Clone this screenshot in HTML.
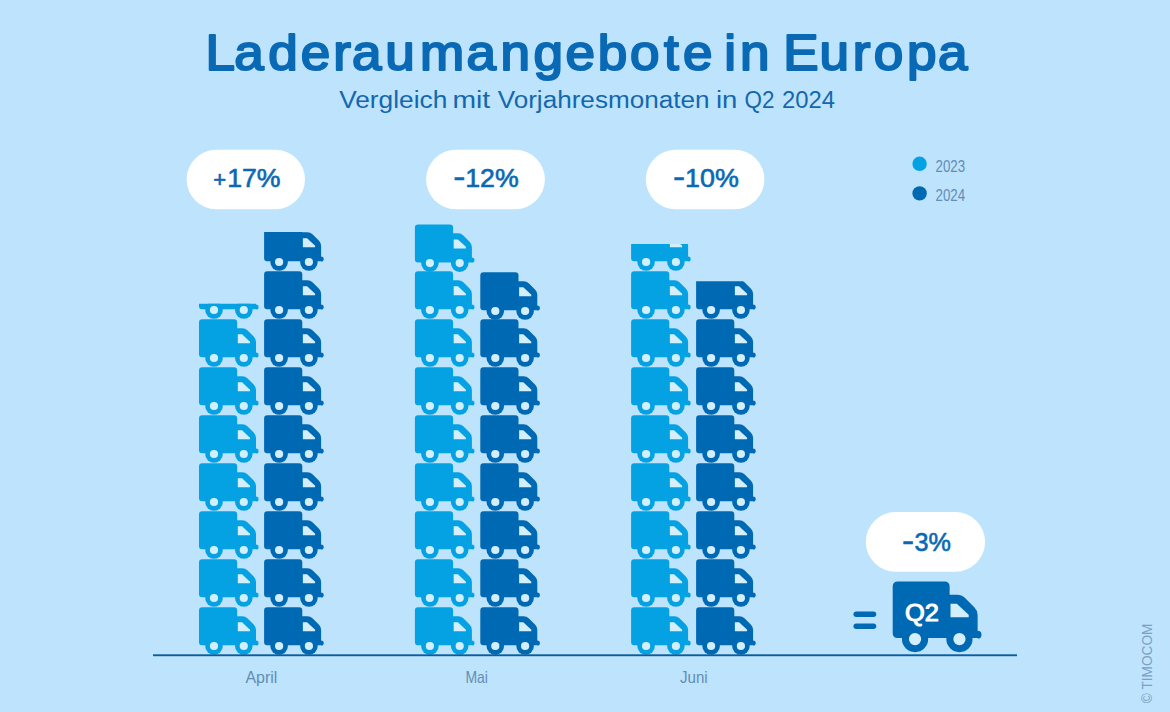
<!DOCTYPE html>
<html lang="de"><head><meta charset="utf-8"><title>Laderaumangebote in Europa</title>
<style>
html,body{margin:0;padding:0;background:#BDE4FC;}
body{width:1170px;height:712px;overflow:hidden;}
svg{display:block;font-family:"Liberation Sans",sans-serif;}
</style></head><body>
<svg width="1170" height="712" viewBox="0 0 1170 712">
<defs>
<g id="truck">
<path d="M3.2,-38.7 H35 a3.2,3.2 0 0 1 3.2,3.2 V-29.8 H43.3 Q46.3,-29.8 48.4,-27.7 L54.9,-21.2 Q57,-19.1 57,-16.2 V-5.6 a2.6,2.6 0 0 1 0,5.2 V-0.7 H3 a3,3 0 0 1 -3,-3 V-35.5 a3.2,3.2 0 0 1 3.2,-3.2 Z"/>
<circle cx="15" cy="0" r="8.8"/><circle cx="44.8" cy="0" r="8.8"/>
<circle cx="15" cy="0" r="4.1" fill="#D3EFFE"/><circle cx="44.8" cy="0" r="4.1" fill="#D3EFFE"/>
<path d="M38.8,-23.7 H43 L51,-16.3 V-14.7 H38.8 Z" fill="#D3EFFE"/>
</g>

<clipPath id="c0"><rect x="197.0" y="303.7" width="66" height="700"/></clipPath>
<clipPath id="c1"><rect x="262.1" y="232.1" width="66" height="700"/></clipPath>
<clipPath id="c2"><rect x="412.9" y="0" width="66" height="700"/></clipPath>
<clipPath id="c3"><rect x="478.3" y="0" width="66" height="700"/></clipPath>
<clipPath id="c4"><rect x="629.1" y="244.1" width="66" height="700"/></clipPath>
<clipPath id="c5"><rect x="694.1" y="281.2" width="66" height="700"/></clipPath>
</defs>
<rect width="1170" height="712" fill="#BDE4FC"/>
<text transform="scale(1.05 1)" x="195.6 223.1 255.5 286.5 317.5 335.3 366.9 400.0 444.2 476.7 508.0 538.5 569.2 600.1 632.4 650.4 678.5 689.8 704.7 732.8 746.0 780.6 812.2 832.2 863.7 893.4" y="69.6" font-size="50.5" fill="#0A69B4" stroke="#0A69B4" stroke-width="2.1" stroke-linejoin="round">Laderaumangebote in Europa</text>
<text x="339.2" y="107.7" font-size="23.5" fill="#1467AE"  textLength="108.1" lengthAdjust="spacingAndGlyphs">Vergleich</text>
<text x="452.5" y="107.7" font-size="23.5" fill="#1467AE"  textLength="37.7" lengthAdjust="spacingAndGlyphs">mit</text>
<text x="497.7" y="107.7" font-size="23.5" fill="#1467AE"  textLength="211.8" lengthAdjust="spacingAndGlyphs">Vorjahresmonaten</text>
<text x="716.0" y="107.7" font-size="23.5" fill="#1467AE"  textLength="21.4" lengthAdjust="spacingAndGlyphs">in</text>
<text x="744.5" y="107.7" font-size="23.5" fill="#1467AE"  textLength="29.9" lengthAdjust="spacingAndGlyphs">Q2</text>
<text x="782.1" y="107.7" font-size="23.5" fill="#1467AE"  textLength="53.0" lengthAdjust="spacingAndGlyphs">2024</text>
<rect x="186.6" y="149.7" width="118.4" height="59.5" rx="29.75" fill="#fff"/>
<rect x="426.1" y="149.7" width="118.8" height="59.5" rx="29.75" fill="#fff"/>
<rect x="645.8" y="149.7" width="118.6" height="59.5" rx="29.75" fill="#fff"/>
<text x="213.3" y="187.0" font-size="21.5" fill="#0A69B4" stroke="#0A69B4" stroke-width="0.6" stroke-linejoin="round" textLength="12.9" lengthAdjust="spacingAndGlyphs">+</text>
<text x="227.2" y="187.4" font-size="25.5" fill="#0A69B4" stroke="#0A69B4" stroke-width="0.6" stroke-linejoin="round" textLength="53.4" lengthAdjust="spacingAndGlyphs">17%</text>
<text x="453.3" y="187.3" font-size="32" fill="#0A69B4" stroke="#0A69B4" stroke-width="0.6" stroke-linejoin="round" textLength="12.1" lengthAdjust="spacingAndGlyphs">-</text>
<text x="465.2" y="187.4" font-size="25.5" fill="#0A69B4" stroke="#0A69B4" stroke-width="0.6" stroke-linejoin="round" textLength="53.5" lengthAdjust="spacingAndGlyphs">12%</text>
<text x="673.1" y="187.3" font-size="32" fill="#0A69B4" stroke="#0A69B4" stroke-width="0.6" stroke-linejoin="round" textLength="12.1" lengthAdjust="spacingAndGlyphs">-</text>
<text x="685.0" y="187.4" font-size="25.5" fill="#0A69B4" stroke="#0A69B4" stroke-width="0.6" stroke-linejoin="round" textLength="53.8" lengthAdjust="spacingAndGlyphs">10%</text>
<circle cx="919.6" cy="163.8" r="7.2" fill="#05A2E3"/><circle cx="919.6" cy="193.4" r="7.2" fill="#0069B4"/>
<text x="935.5" y="171.8" font-size="16" fill="#628DB6" textLength="29.6" lengthAdjust="spacingAndGlyphs">2023</text>
<text x="935.5" y="201.3" font-size="16" fill="#628DB6" textLength="29.6" lengthAdjust="spacingAndGlyphs">2024</text>
<g><g fill="#05A2E3" clip-path="url(#c0)">
<use href="#truck" x="199.0" y="646.0"/>
<use href="#truck" x="199.0" y="598.0"/>
<use href="#truck" x="199.0" y="550.0"/>
<use href="#truck" x="199.0" y="502.0"/>
<use href="#truck" x="199.0" y="454.0"/>
<use href="#truck" x="199.0" y="406.0"/>
<use href="#truck" x="199.0" y="358.0"/>
<use href="#truck" x="199.0" y="310.0"/>
</g></g>
<g><g fill="#0069B4" clip-path="url(#c1)">
<use href="#truck" x="264.1" y="646.0"/>
<use href="#truck" x="264.1" y="598.0"/>
<use href="#truck" x="264.1" y="550.0"/>
<use href="#truck" x="264.1" y="502.0"/>
<use href="#truck" x="264.1" y="454.0"/>
<use href="#truck" x="264.1" y="406.0"/>
<use href="#truck" x="264.1" y="358.0"/>
<use href="#truck" x="264.1" y="310.0"/>
<use href="#truck" x="264.1" y="262.0"/>
</g></g>
<g><g fill="#05A2E3" clip-path="url(#c2)">
<use href="#truck" x="414.9" y="646.0"/>
<use href="#truck" x="414.9" y="598.0"/>
<use href="#truck" x="414.9" y="550.0"/>
<use href="#truck" x="414.9" y="502.0"/>
<use href="#truck" x="414.9" y="454.0"/>
<use href="#truck" x="414.9" y="406.0"/>
<use href="#truck" x="414.9" y="358.0"/>
<use href="#truck" x="414.9" y="310.0"/>
<use href="#truck" x="414.9" y="263.1"/>
</g></g>
<g><g fill="#0069B4" clip-path="url(#c3)">
<use href="#truck" x="480.3" y="646.0"/>
<use href="#truck" x="480.3" y="598.0"/>
<use href="#truck" x="480.3" y="550.0"/>
<use href="#truck" x="480.3" y="502.0"/>
<use href="#truck" x="480.3" y="454.0"/>
<use href="#truck" x="480.3" y="406.0"/>
<use href="#truck" x="480.3" y="358.0"/>
<use href="#truck" x="480.3" y="311.0"/>
</g></g>
<g><g fill="#05A2E3" clip-path="url(#c4)">
<use href="#truck" x="631.1" y="646.0"/>
<use href="#truck" x="631.1" y="598.0"/>
<use href="#truck" x="631.1" y="550.0"/>
<use href="#truck" x="631.1" y="502.0"/>
<use href="#truck" x="631.1" y="454.0"/>
<use href="#truck" x="631.1" y="406.0"/>
<use href="#truck" x="631.1" y="358.0"/>
<use href="#truck" x="631.1" y="310.0"/>
<use href="#truck" x="631.1" y="262.0"/>
</g></g>
<g><g fill="#0069B4" clip-path="url(#c5)">
<use href="#truck" x="696.1" y="646.0"/>
<use href="#truck" x="696.1" y="598.0"/>
<use href="#truck" x="696.1" y="550.0"/>
<use href="#truck" x="696.1" y="502.0"/>
<use href="#truck" x="696.1" y="454.0"/>
<use href="#truck" x="696.1" y="406.0"/>
<use href="#truck" x="696.1" y="358.0"/>
<use href="#truck" x="696.1" y="310.0"/>
</g></g>
<rect x="153" y="654.3" width="864" height="1.9" fill="#0B5FA0"/>
<text x="245.4" y="682.5" font-size="16.5" fill="#628DB6" textLength="32.0" lengthAdjust="spacingAndGlyphs">April</text>
<text x="465.4" y="682.5" font-size="16.5" fill="#628DB6" textLength="22.5" lengthAdjust="spacingAndGlyphs">Mai</text>
<text x="680" y="682.5" font-size="16.5" fill="#628DB6" textLength="27.7" lengthAdjust="spacingAndGlyphs">Juni</text>
<rect x="865.8" y="512" width="119.3" height="59.8" rx="29.9" fill="#fff"/>
<text x="901.9" y="550.5" font-size="32" fill="#0A69B4" stroke="#0A69B4" stroke-width="0.6" stroke-linejoin="round" textLength="12.1" lengthAdjust="spacingAndGlyphs">-</text>
<text x="914.5" y="550.6" font-size="25.5" fill="#0A69B4" stroke="#0A69B4" stroke-width="0.6" stroke-linejoin="round" textLength="36.4" lengthAdjust="spacingAndGlyphs">3%</text>
<rect x="853.5" y="611.6" width="22.7" height="5.3" rx="2.65" fill="#0069B4"/><rect x="853.5" y="623.6" width="22.7" height="5.3" rx="2.65" fill="#0069B4"/>
<g fill="#0069B4" transform="translate(892.7,639.1) scale(1.49)"><use href="#truck"/></g>
<text x="905.0" y="621.2" font-size="23.2" fill="#fff" stroke="#fff" stroke-width="1" stroke-linejoin="round" textLength="33.9" lengthAdjust="spacingAndGlyphs">Q2</text>
<text transform="translate(1151.8,703.2) rotate(-90)" font-size="14.3" fill="#7BA0C4" textLength="79.6" lengthAdjust="spacingAndGlyphs">© TIMOCOM</text>
</svg></body></html>
